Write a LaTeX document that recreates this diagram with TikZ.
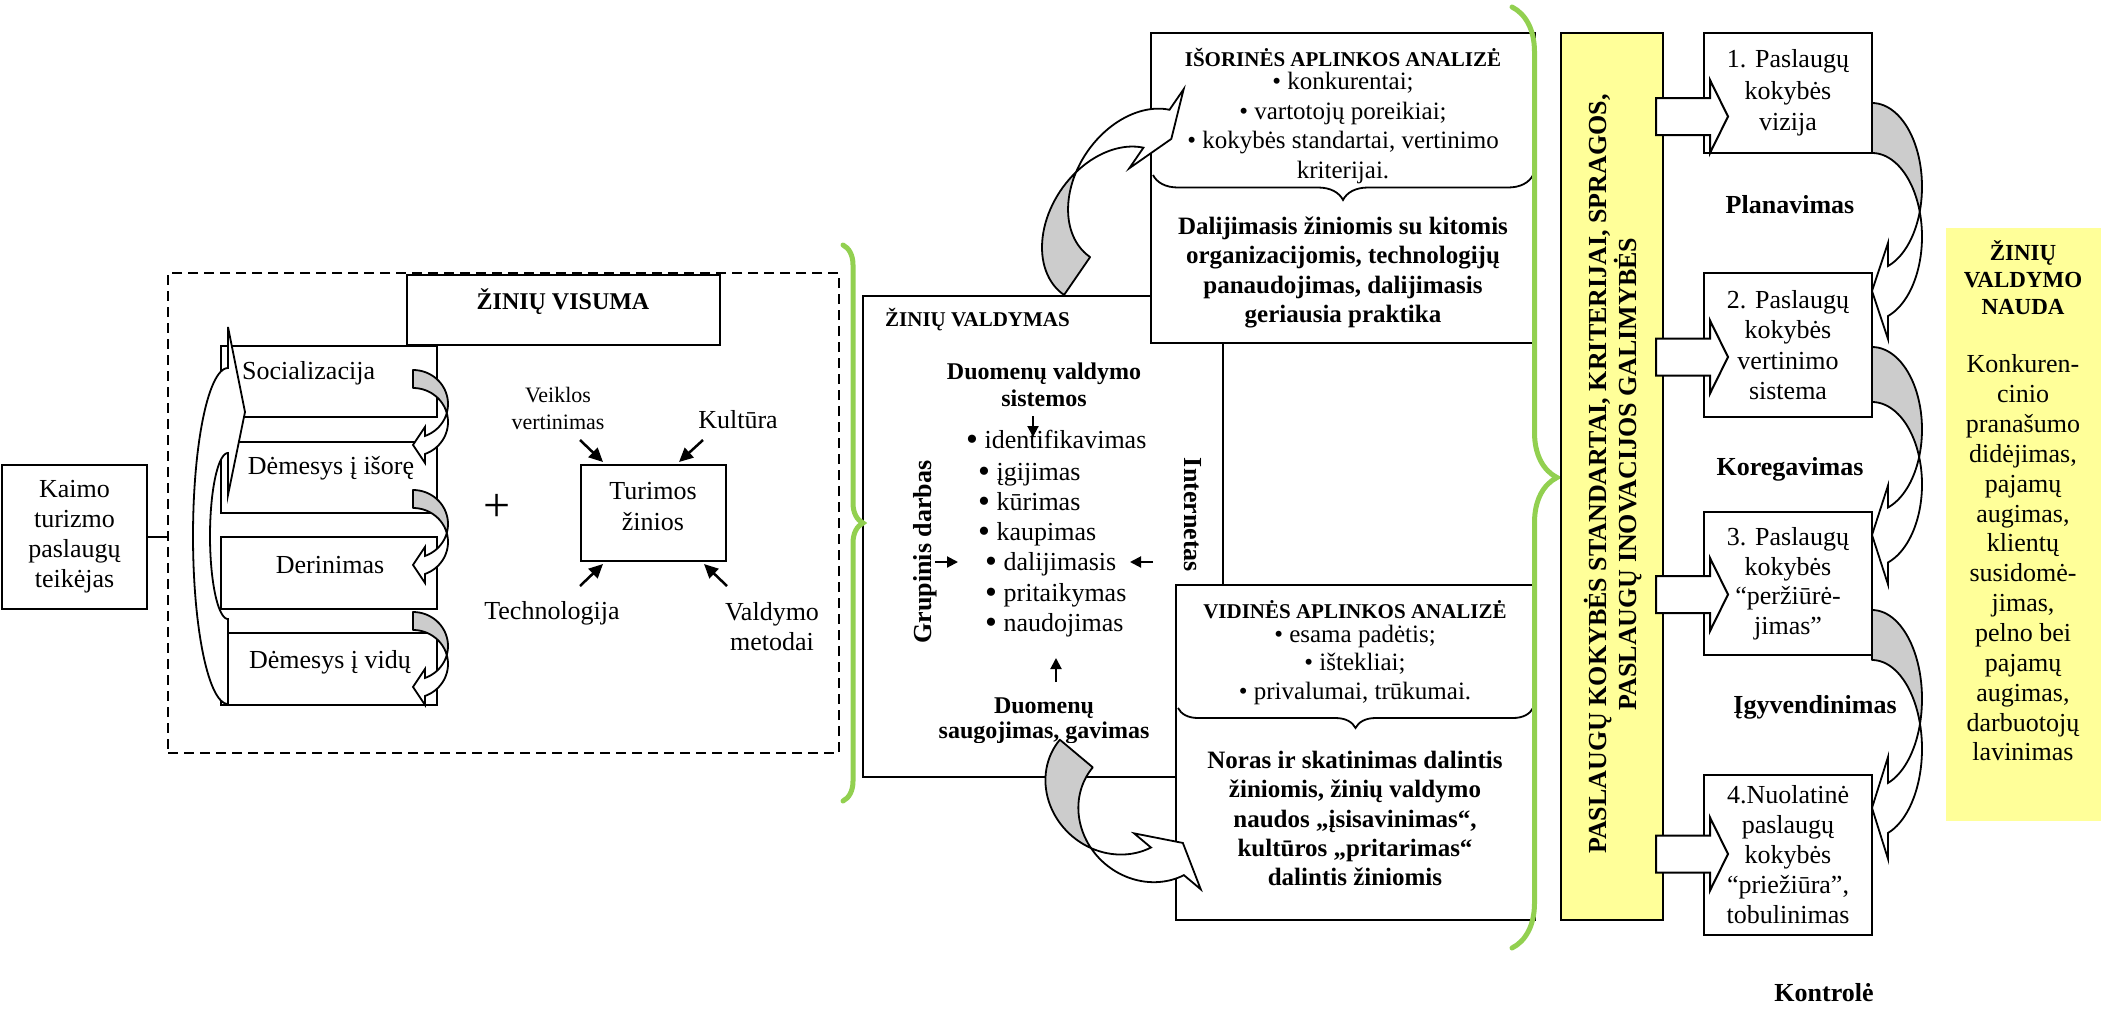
\documentclass[tikz,border=0pt]{standalone}
\usepackage{fontspec}
\setmainfont{Liberation Serif}
\usetikzlibrary{arrows.meta,calc,decorations.pathreplacing}
\definecolor{lgreen}{HTML}{92D050}
\definecolor{lyellow}{HTML}{FFFF99}
\definecolor{rgray}{HTML}{CCCCCC}

\tikzset{
  box/.style={draw, line width=2pt, fill=white, inner sep=0pt},
  wh/.style 2 args={minimum width=#1pt, minimum height=#2pt},
  tx/.style 2 args={font=\fontsize{#1}{#2}\selectfont, inner sep=0pt, align=center},
  bx/.style 2 args={font=\fontsize{#1}{#2}\selectfont\bfseries, inner sep=0pt, align=center},
  ribbonback/.style={draw=black, line width=1.8pt, fill=rgray, line join=round},
  ribbonfront/.style={draw=black, line width=1.8pt, fill=white, line join=miter},
  tarrow/.style={line width=2.5pt, -{Triangle[length=14pt,width=13pt]}},
  sarrow/.style={line width=2pt, -{Triangle[length=11pt,width=11pt]}},
  greenbrace/.style={draw=lgreen, line width=5pt, line cap=round, decorate,
    decoration={brace, amplitude=#1pt, aspect=0.5}},
  thinbrace/.style={draw=black, line width=1.8pt, decorate,
    decoration={brace, amplitude=#1pt, aspect=0.5}},
  blockarrow/.style={draw, line width=2pt, fill=white, line join=miter},
}

% large bullet for the list of knowledge processes
\newcommand\bigbul{{\fontsize{34}{30}\selectfont\raisebox{-2pt}{•}}}

% twisted ribbon arrow: back part (grey) from the start, front part (white) ending in a head
% #1 x radius, #2 y radius, #3 band thickness, #4 head length, #5 barb extension
\newcommand\ribbon[5]{%
  \pgfmathsetmacro\rbRx{#1}%
  \pgfmathsetmacro\rbRy{#2}%
  \pgfmathsetmacro\rbTh{#3}%
  \pgfmathsetmacro\rbHl{#4}%
  \pgfmathsetmacro\rbE{#5}%
  \pgfmathsetmacro\rbPa{acos(-\rbTh/(2*\rbRy))}%
  \pgfmathsetmacro\rbPb{acos(\rbTh/(2*\rbRy))}%
  \pgfmathsetmacro\rbPe{180-asin(\rbHl/\rbRx)}%
  \pgfmathsetmacro\rbYa{-\rbRy*cos(\rbPe)}%
  \pgfmathsetmacro\rbYb{\rbTh-\rbRy*cos(\rbPe)}%
  \pgfmathsetmacro\rbYt{(\rbYa+\rbYb)/2}%
  \path[ribbonback] plot[variable=\t,domain=0:1,samples=32]
      ({\rbRx*sin(\t*\rbPa)},{-\rbRy*cos(\t*\rbPa)})
    -- plot[variable=\t,domain=0:1,samples=32]
      ({\rbRx*sin((1-\t)*\rbPb)},{\rbTh-\rbRy*cos((1-\t)*\rbPb)}) -- cycle;
  \path[ribbonfront] plot[variable=\t,domain=0:1,samples=32]
      ({\rbRx*sin(\rbPa+\t*(\rbPe-\rbPa))},{-\rbRy*cos(\rbPa+\t*(\rbPe-\rbPa))})
    -- ({\rbHl},{\rbYa-\rbE}) -- (0,{\rbYt}) -- ({\rbHl},{\rbYb+\rbE})
    -- plot[variable=\t,domain=0:1,samples=32]
      ({\rbRx*sin(\rbPe-\t*(\rbPe-\rbPb))},{\rbTh-\rbRy*cos(\rbPe-\t*(\rbPe-\rbPb))}) -- cycle;
}

% block arrow from the yellow bar into a step box, #1 = y of its axis
\newcommand\blockarr[1]{%
  \path[blockarrow] (1656,{#1-18.5}) -- (1710,{#1-18.5}) -- (1710,{#1-36.5}) -- (1728,{#1})
    -- (1710,{#1+36.5}) -- (1710,{#1+18.5}) -- (1656,{#1+18.5}) -- cycle;}

\begin{document}
\begin{tikzpicture}[x=1pt,y=-1pt]
\useasboundingbox (0,0) rectangle (2101,1013);

% ---------- provider and the whole of knowledge ----------
\node[draw, dash pattern=on 10pt off 6pt, line width=2pt, wh={671}{480}] (whole) at (503.5,513) {};
\node[box, wh={145}{144}, tx={26}{30}] (kaimo) at (74.5,537) {Kaimo\\turizmo\\paslaugų\\teikėjas};
\draw[line width=2pt] (kaimo.east) -- (kaimo.east -| whole.west);

\node[box, wh={313}{70}] (visuma) at (563.5,310) {};
\node[bx={24}{28}] at (563,302) {ŽINIŲ VISUMA};

\node[box, wh={216}{71}] (s1) at (329,381.5) {};
\node[box, wh={216}{71}] (s2) at (329,477.5) {};
\node[box, wh={216}{72}] (s3) at (329,573) {};
\node[box, wh={216}{72}] (s4) at (329,669) {};

% large return arrow on the left of the stack
\path[draw, line width=1.8pt, fill=white, line join=miter]
  plot[variable=\t,domain=0:180,samples=60] ({228-35*sin(\t)},{536+168*cos(\t)})
  -- (228,327) -- (245,412) -- (228,495)
  -- plot[variable=\t,domain=0:180,samples=60] ({228-18*sin(180-\t)},{536+83*cos(180-\t)})
  -- cycle;

% small ribbons between the stacked steps
\begin{scope}[shift={(413,404)}]\ribbon{35}{34}{18}{12}{9}\end{scope}
\begin{scope}[shift={(413,524)}]\ribbon{35}{34}{18}{12}{9}\end{scope}
\begin{scope}[shift={(413,646)}]\ribbon{35}{34}{18}{12}{9}\end{scope}

\node[tx={26}{30}, anchor=west] at (242,373) {Socializacija};
\node[tx={26}{30}] at (331,468) {Dėmesys į išorę};
\node[tx={26}{30}] at (330,565) {Derinimas};
\node[tx={26}{30}] at (330,662) {Dėmesys į vidų};

\node[tx={48}{48}] (plus) at (497,508) {+};
\node[box, wh={145}{96}] (tur) at (653.5,513) {};
\node[tx={26}{31}] at (653,507) {Turimos\\žinios};
\node[tx={22}{27}] (veik) at (558,408) {Veiklos\\vertinimas};
\node[tx={26}{30}] (kult) at (738,420) {Kultūra};
\node[tx={26}{30}] (tech) at (552,613) {Technologija};
\node[tx={26}{30}] (valdm) at (772,627) {Valdymo\\metodai};
\draw[tarrow] ($(tur.north west)+(0,-24)$) -- ($(tur.north west)+(23,-2)$);
\draw[tarrow] ($(tur.north east)+(-24,-24)$) -- ($(tur.north east)+(-48,-2)$);
\draw[tarrow] ($(tur.south west)+(0,24)$) -- ($(tur.south west)+(23,2)$);
\draw[tarrow] ($(tur.south east)+(0,24)$) -- ($(tur.south east)+(-23,2)$);

% ---------- knowledge management ----------
\node[box, wh={360}{481}] (zv) at (1043,536.5) {};
\node[box, wh={384}{310}] (isor) at (1343,188) {};
\node[box, wh={359}{335}] (vid) at (1355.5,752.5) {};

\node[bx={21}{25}, anchor=west] at (885,320) {ŽINIŲ VALDYMAS};
\node[bx={24}{27}] (dvs) at (1044,384.5) {Duomenų valdymo\\sistemos};
\node[tx={26}{30}, anchor=base west] (l1) at (966,448) {\bigbul\ identifikavimas};
\node[tx={26}{30}, anchor=base west] (l2) at (978,480) {\bigbul\ įgijimas};
\node[tx={26}{30}, anchor=base west] (l3) at (978,510) {\bigbul\ kūrimas};
\node[tx={26}{30}, anchor=base west] (l4) at (978,540) {\bigbul\ kaupimas};
\node[tx={26}{30}, anchor=base west] (l5) at (985,570) {\bigbul\ dalijimasis};
\node[tx={26}{30}, anchor=base west] (l6) at (985,601) {\bigbul\ pritaikymas};
\node[tx={26}{30}, anchor=base west] (l7) at (985,631) {\bigbul\ naudojimas};
\node[bx={26}{30}, rotate=90] (grup) at (925,552) {Grupinis darbas};
\node[bx={26}{30}, rotate=-90] (inet) at (1193,515) {Internetas};
\draw[sarrow] (1033,416) -- (1033,437);
\draw[sarrow] (1056,682) -- (1056,658);
\draw[sarrow] (935,562) -- (958,562);
\draw[sarrow] (1153,562) -- (1130,562);
\begin{scope}
  \clip (880,680) rectangle (1200,742);
  \node[bx={24}{25}] (dsg) at (1044,720.5) {Duomenų\\saugojimas, gavimas};
\end{scope}

\node[bx={21}{25}] at (1343,57) {IŠORINĖS APLINKOS ANALIZĖ};
\node[tx={25}{29.5}] at (1343,128) {• konkurentai;\\• vartotojų poreikiai;\\• kokybės standartai, vertinimo\\kriterijai.};
\draw[thinbrace=25] (1533,175) -- (1153,175);
\node[bx={25}{29.5}] at (1343,272.5) {Dalijimasis žiniomis su kitomis\\organizacijomis, technologijų\\panaudojimas, dalijimasis\\geriausia praktika};

\node[bx={21}{25}] at (1355,610) {VIDINĖS APLINKOS ANALIZĖ};
\node[tx={25}{28.5}] at (1355,664.5) {• esama padėtis;\\• ištekliai;\\• privalumai, trūkumai.};
\draw[thinbrace=20] (1533,708) -- (1178,708);
\node[bx={25}{29.25}] at (1355,818.5) {Noras ir skatinimas dalintis\\žiniomis, žinių valdymo\\naudos „įsisavinimas“,\\kultūros „pritarimas“\\dalintis žiniomis};

% ribbons from knowledge management to the two analyses
\begin{scope}[shift={(1112.2,224.9)}, rotate=145.5]\ribbon{62}{85}{46}{18}{25}\end{scope}
\begin{scope}[shift={(1115,786)}, rotate=50, xscale=-1]\ribbon{66}{72}{43}{24}{22}\end{scope}

% green braces
\draw[greenbrace=20] (843,245) -- (843,801);
\draw[greenbrace=45] (1512,7) -- (1512,948);

% ---------- quality cycle ----------
\node[box, fill=lyellow, wh={102}{887}] (bar) at (1612,476.5) {};
\node[bx={26}{30}, rotate=90] at (1613,474) {PASLAUGŲ KOKYBĖS STANDARTAI, KRITERIJAI, SPRAGOS,\\PASLAUGŲ INOVACIJOS GALIMYBĖS};

\node[box, wh={168}{120}, tx={26}{31.5}] (b1) at (1788,93) {1. Paslaugų\\kokybės\\vizija};
\node[box, wh={168}{144}, tx={26}{30.5}] (b2) at (1788,345) {2. Paslaugų\\kokybės\\vertinimo\\sistema};
\node[box, wh={168}{143}, tx={26}{29.5}] (b3) at (1788,583.5) {3. Paslaugų\\kokybės\\“peržiūrė-\\jimas”};
\node[box, wh={168}{160}, tx={26}{30}] (b4) at (1788,855) {4.Nuolatinė\\paslaugų\\kokybės\\“priežiūra”,\\tobulinimas};

\blockarr{116.5}
\blockarr{357}
\blockarr{594.5}
\blockarr{854}

\begin{scope}[shift={(1872,186.7)}]\ribbon{50}{83.7}{50}{16}{23}\end{scope}
\begin{scope}[shift={(1872,429.4)}]\ribbon{50}{82.4}{55}{16}{22}\end{scope}
\begin{scope}[shift={(1872,698.8)}]\ribbon{50}{88.8}{50}{16}{26}\end{scope}

\node[bx={26}{30}] at (1790,205) {Planavimas};
\node[bx={26}{30}] at (1790,469) {Koregavimas};
\node[bx={26}{30}] at (1815,707) {Įgyvendinimas};
\node[bx={26}{30}] at (1824,993) {Kontrolė};

% ---------- benefit ----------
\node[fill=lyellow, wh={155}{593}] (nauda) at (2023.5,524.5) {};
\node[bx={23}{27}] at (2023,278) {ŽINIŲ\\VALDYMO\\NAUDA};
\node[tx={26}{29.85}] at (2023,558) {Konkuren-\\cinio\\pranašumo\\didėjimas,\\pajamų\\augimas,\\klientų\\susidomė-\\jimas,\\pelno bei\\pajamų\\augimas,\\darbuotojų\\lavinimas};
\end{tikzpicture}
\end{document}
